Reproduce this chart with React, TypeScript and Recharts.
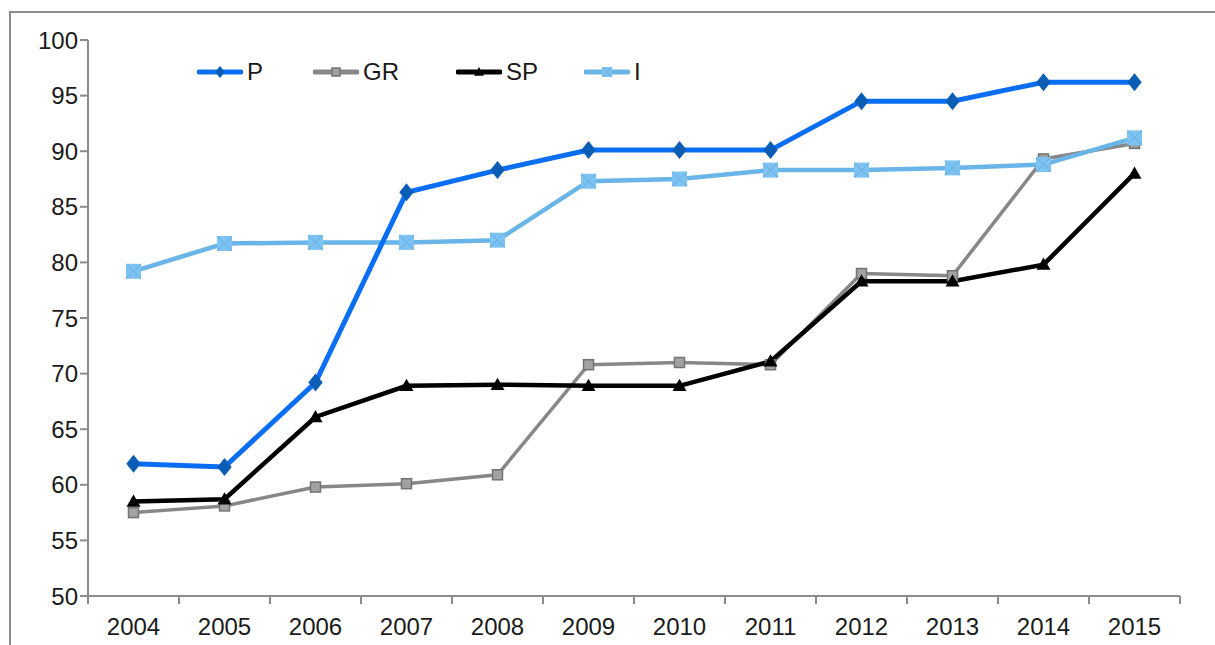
import { LineChart, Line, XAxis, YAxis } from 'recharts';

const years = ['2004', '2005', '2006', '2007', '2008', '2009', '2010', '2011', '2012', '2013', '2014', '2015'];
const pValues = [61.9, 61.6, 69.2, 86.3, 88.3, 90.1, 90.1, 90.1, 94.5, 94.5, 96.2, 96.2];
const grValues = [57.5, 58.1, 59.8, 60.1, 60.9, 70.8, 71.0, 70.8, 79.0, 78.8, 89.3, 90.7];
const spValues = [58.5, 58.7, 66.1, 68.9, 69.0, 68.9, 68.9, 71.1, 78.3, 78.3, 79.8, 88.0];
const iValues = [79.2, 81.7, 81.8, 81.8, 82.0, 87.3, 87.5, 88.3, 88.3, 88.5, 88.8, 91.2];
const yTicks = [50, 55, 60, 65, 70, 75, 80, 85, 90, 95, 100];
const boundaryTicks = [-0.5, 0.5, 1.5, 2.5, 3.5, 4.5, 5.5, 6.5, 7.5, 8.5, 9.5, 10.5, 11.5];
const centerTicks = years.map((_, i) => i);

const data = years.map((year, i) => ({
  i,
  year,
  P: pValues[i],
  GR: grValues[i],
  SP: spValues[i],
  I: iValues[i],
}));

const FONT = '"Liberation Sans", Arial, sans-serif';
const AXIS = '#8c8c8c';
const TEXT = '#1a1a1a';

const P_LINE = '#0a6ef2';
const P_DOT = '#0a5db4';
const GR_LINE = '#878787';
const SP_LINE = '#000000';
const I_LINE = '#6ab5e8';
const I_DOT = '#7cc3f2';

// recharts hands every dot an `r`, so the marker sizes use their own prop names
function Diamond({ cx, cy, size = 9 }: any) {
  if (cx == null || cy == null) return null;
  return <polygon points={`${cx},${cy - size} ${cx + size * 0.8},${cy} ${cx},${cy + size} ${cx - size * 0.8},${cy}`} fill={P_DOT} />;
}

function GraySquare({ cx, cy, side = 10 }: any) {
  if (cx == null || cy == null) return null;
  return <rect x={cx - side / 2} y={cy - side / 2} width={side} height={side} fill="#a2a2a2" stroke="#737373" strokeWidth={1.5} />;
}

function Triangle({ cx, cy, side = 7 }: any) {
  if (cx == null || cy == null) return null;
  return <polygon points={`${cx},${cy - side} ${cx + side},${cy + side * 0.75} ${cx - side},${cy + side * 0.75}`} fill="#000" />;
}

function CrossSquare({ cx, cy, side = 15 }: any) {
  if (cx == null || cy == null) return null;
  const h = side / 2;
  return (
    <g>
      <rect x={cx - h} y={cy - h} width={side} height={side} fill={I_DOT} />
      <line x1={cx - h} y1={cy - h} x2={cx + h} y2={cy + h} stroke="#62ade3" strokeWidth={1} />
      <line x1={cx - h} y1={cy + h} x2={cx + h} y2={cy - h} stroke="#62ade3" strokeWidth={1} />
    </g>
  );
}

function LegendIcon({ color, width, children }: any) {
  return (
    <svg width={46} height={20} style={{ display: 'block' }}>
      <line x1={2} y1={10} x2={44} y2={10} stroke={color} strokeWidth={width} strokeLinecap="round" />
      {children}
    </svg>
  );
}

const legendItems = [
  { name: 'P', left: 197, icon: <LegendIcon color={P_LINE} width={5}><Diamond cx={23} cy={10} size={6} /></LegendIcon> },
  { name: 'GR', left: 313, icon: <LegendIcon color={GR_LINE} width={5}><GraySquare cx={23} cy={10} side={8} /></LegendIcon> },
  { name: 'SP', left: 456, icon: <LegendIcon color={SP_LINE} width={5}><Triangle cx={23} cy={10} side={5} /></LegendIcon> },
  { name: 'I', left: 584, icon: <LegendIcon color={I_LINE} width={5}><CrossSquare cx={23} cy={10} side={10} /></LegendIcon> },
];

export default function App() {
  return (
    <div style={{ position: 'absolute', left: 0, top: 0, width: 1215, height: 645, overflow: 'hidden', background: '#fff', fontFamily: FONT }}>
      <div style={{ position: 'absolute', left: 9, top: 11, width: 1400, height: 900, border: `2px solid ${AXIS}` }} />
      <LineChart
        width={1215}
        height={645}
        data={data}
        margin={{ top: 40, right: 35, bottom: 0, left: 0 }}
        style={{ position: 'absolute', left: 0, top: 0 }}
      >
        <XAxis
          xAxisId="bounds"
          dataKey="i"
          type="number"
          domain={[-0.5, 11.5]}
          ticks={boundaryTicks}
          tickFormatter={() => ''}
          height={8}
          tickSize={8}
          axisLine={{ stroke: AXIS, strokeWidth: 2 }}
          tickLine={{ stroke: AXIS, strokeWidth: 2 }}
          interval={0}
        />
        <XAxis
          xAxisId="years"
          dataKey="i"
          type="number"
          domain={[-0.5, 11.5]}
          ticks={centerTicks}
          tickFormatter={(v) => years[v] ?? ''}
          height={41}
          axisLine={false}
          tickLine={false}
          tickSize={0}
          tickMargin={14}
          interval={0}
          tick={{ fill: TEXT, fontSize: 24, fontFamily: FONT }}
        />
        <YAxis
          domain={[50, 100]}
          ticks={yTicks}
          width={88}
          tickSize={8}
          tickMargin={2}
          interval={0}
          axisLine={{ stroke: AXIS, strokeWidth: 2 }}
          tickLine={{ stroke: AXIS, strokeWidth: 2 }}
          tick={{ fill: TEXT, fontSize: 24, fontFamily: FONT }}
        />
        <Line xAxisId="years" dataKey="GR" stroke={GR_LINE} strokeWidth={3.5} dot={<GraySquare />} activeDot={false} isAnimationActive={false} />
        <Line xAxisId="years" dataKey="SP" stroke={SP_LINE} strokeWidth={4.5} dot={<Triangle />} activeDot={false} isAnimationActive={false} />
        <Line xAxisId="years" dataKey="I" stroke={I_LINE} strokeWidth={4.5} dot={<CrossSquare />} activeDot={false} isAnimationActive={false} />
        <Line xAxisId="years" dataKey="P" stroke={P_LINE} strokeWidth={5} dot={<Diamond />} activeDot={false} isAnimationActive={false} />
      </LineChart>
      {legendItems.map((item) => (
        <div key={item.name} style={{ position: 'absolute', left: item.left, top: 58, display: 'flex', alignItems: 'center', gap: 4, fontSize: 24, color: TEXT }}>
          {item.icon}
          <span>{item.name}</span>
        </div>
      ))}
    </div>
  );
}
